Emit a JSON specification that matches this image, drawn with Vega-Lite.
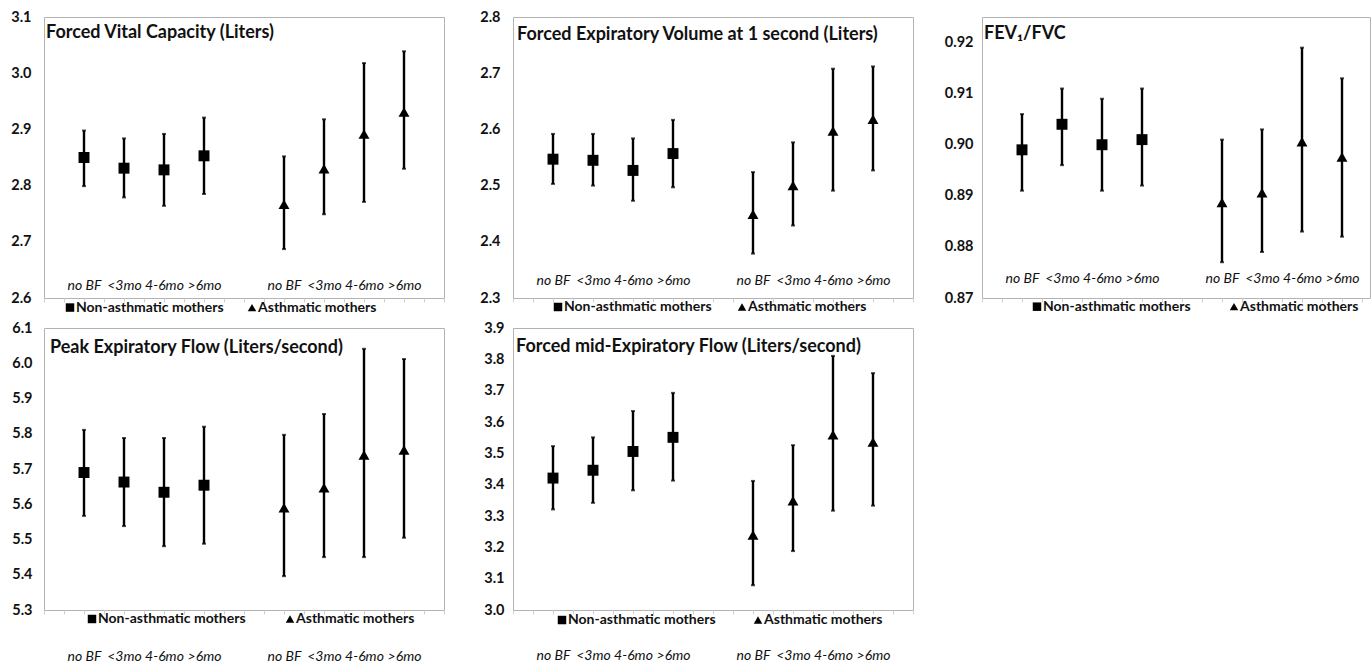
{
  "$schema": "https://vega.github.io/schema/vega-lite/v6.json",
  "padding": {"left": 10, "top": 8, "right": 0, "bottom": 0},
  "background": "white",
  "columns": 3,
  "spacing": {"row": 30, "column": 69},
  "bounds": "flush",
  "config": {
    "font": "Lato",
    "view": {"stroke": "#b3b3b3", "strokeWidth": 1},
    "axisY": {"ticks": false, "domain": false, "grid": false, "tickCount": 20, "labelFont": "Lato", "labelFontWeight": "bold", "labelFontSize": 14.5, "labelColor": "#111", "labelPadding": 13, "labelOverlap": false, "labelFlush": false, "title": null},
    "axisX": {"domain": false, "grid": false, "tickCount": 20, "tickSize": 4, "tickColor": "#d0d0d0", "labelFont": "Lato", "labelFontStyle": "italic", "labelFontSize": 14, "labelColor": "#111", "labelOverlap": false, "labelFlush": false, "title": null, "values": [1, 2, 3, 4, 5, 6, 7, 8, 9],
      "labelExpr": "datum.value == 1 || datum.value == 6 ? 'no BF' : datum.value == 2 || datum.value == 7 ? '<3mo' : datum.value == 3 || datum.value == 8 ? '4-6mo' : datum.value == 4 || datum.value == 9 ? '>6mo' : ''"},
    "text": {"font": "Lato", "color": "#111"}
  },
  "datasets": {
    "fvc": [
      {"group": "Non-asthmatic", "cat": "no BF", "pos": 1, "mean": 2.850, "lo": 2.799, "hi": 2.898},
      {"group": "Non-asthmatic", "cat": "<3mo", "pos": 2, "mean": 2.831, "lo": 2.779, "hi": 2.884},
      {"group": "Non-asthmatic", "cat": "4-6mo", "pos": 3, "mean": 2.828, "lo": 2.764, "hi": 2.892},
      {"group": "Non-asthmatic", "cat": ">6mo", "pos": 4, "mean": 2.853, "lo": 2.785, "hi": 2.921},
      {"group": "Asthmatic", "cat": "no BF", "pos": 6, "mean": 2.767, "lo": 2.687, "hi": 2.852},
      {"group": "Asthmatic", "cat": "<3mo", "pos": 7, "mean": 2.830, "lo": 2.749, "hi": 2.918},
      {"group": "Asthmatic", "cat": "4-6mo", "pos": 8, "mean": 2.892, "lo": 2.771, "hi": 3.018},
      {"group": "Asthmatic", "cat": ">6mo", "pos": 9, "mean": 2.931, "lo": 2.830, "hi": 3.039}
    ],
    "fev1": [
      {"group": "Non-asthmatic", "cat": "no BF", "pos": 1, "mean": 2.547, "lo": 2.503, "hi": 2.592},
      {"group": "Non-asthmatic", "cat": "<3mo", "pos": 2, "mean": 2.545, "lo": 2.500, "hi": 2.592},
      {"group": "Non-asthmatic", "cat": "4-6mo", "pos": 3, "mean": 2.527, "lo": 2.473, "hi": 2.584},
      {"group": "Non-asthmatic", "cat": ">6mo", "pos": 4, "mean": 2.557, "lo": 2.497, "hi": 2.617},
      {"group": "Asthmatic", "cat": "no BF", "pos": 6, "mean": 2.449, "lo": 2.379, "hi": 2.524},
      {"group": "Asthmatic", "cat": "<3mo", "pos": 7, "mean": 2.500, "lo": 2.429, "hi": 2.577},
      {"group": "Asthmatic", "cat": "4-6mo", "pos": 8, "mean": 2.597, "lo": 2.491, "hi": 2.708},
      {"group": "Asthmatic", "cat": ">6mo", "pos": 9, "mean": 2.618, "lo": 2.527, "hi": 2.712}
    ],
    "ratio": [
      {"group": "Non-asthmatic", "cat": "no BF", "pos": 1, "mean": 0.899, "lo": 0.891, "hi": 0.906},
      {"group": "Non-asthmatic", "cat": "<3mo", "pos": 2, "mean": 0.904, "lo": 0.896, "hi": 0.911},
      {"group": "Non-asthmatic", "cat": "4-6mo", "pos": 3, "mean": 0.900, "lo": 0.891, "hi": 0.909},
      {"group": "Non-asthmatic", "cat": ">6mo", "pos": 4, "mean": 0.901, "lo": 0.892, "hi": 0.911},
      {"group": "Asthmatic", "cat": "no BF", "pos": 6, "mean": 0.8887, "lo": 0.877, "hi": 0.901},
      {"group": "Asthmatic", "cat": "<3mo", "pos": 7, "mean": 0.8906, "lo": 0.879, "hi": 0.903},
      {"group": "Asthmatic", "cat": "4-6mo", "pos": 8, "mean": 0.9006, "lo": 0.883, "hi": 0.919},
      {"group": "Asthmatic", "cat": ">6mo", "pos": 9, "mean": 0.8976, "lo": 0.882, "hi": 0.913}
    ],
    "pef": [
      {"group": "Non-asthmatic", "cat": "no BF", "pos": 1, "mean": 5.690, "lo": 5.567, "hi": 5.811},
      {"group": "Non-asthmatic", "cat": "<3mo", "pos": 2, "mean": 5.663, "lo": 5.538, "hi": 5.788},
      {"group": "Non-asthmatic", "cat": "4-6mo", "pos": 3, "mean": 5.634, "lo": 5.481, "hi": 5.788},
      {"group": "Non-asthmatic", "cat": ">6mo", "pos": 4, "mean": 5.654, "lo": 5.488, "hi": 5.820},
      {"group": "Asthmatic", "cat": "no BF", "pos": 6, "mean": 5.590, "lo": 5.396, "hi": 5.797},
      {"group": "Asthmatic", "cat": "<3mo", "pos": 7, "mean": 5.647, "lo": 5.450, "hi": 5.856},
      {"group": "Asthmatic", "cat": "4-6mo", "pos": 8, "mean": 5.740, "lo": 5.450, "hi": 6.041},
      {"group": "Asthmatic", "cat": ">6mo", "pos": 9, "mean": 5.754, "lo": 5.505, "hi": 6.012}
    ],
    "fef": [
      {"group": "Non-asthmatic", "cat": "no BF", "pos": 1, "mean": 3.421, "lo": 3.321, "hi": 3.523},
      {"group": "Non-asthmatic", "cat": "<3mo", "pos": 2, "mean": 3.446, "lo": 3.342, "hi": 3.551},
      {"group": "Non-asthmatic", "cat": "4-6mo", "pos": 3, "mean": 3.506, "lo": 3.382, "hi": 3.635},
      {"group": "Non-asthmatic", "cat": ">6mo", "pos": 4, "mean": 3.551, "lo": 3.413, "hi": 3.693},
      {"group": "Asthmatic", "cat": "no BF", "pos": 6, "mean": 3.239, "lo": 3.079, "hi": 3.412},
      {"group": "Asthmatic", "cat": "<3mo", "pos": 7, "mean": 3.349, "lo": 3.188, "hi": 3.526},
      {"group": "Asthmatic", "cat": "4-6mo", "pos": 8, "mean": 3.559, "lo": 3.317, "hi": 3.811},
      {"group": "Asthmatic", "cat": ">6mo", "pos": 9, "mean": 3.536, "lo": 3.333, "hi": 3.756}
    ]
  },
  "concat": [
    {
      "width": 400, "height": 281,
      "data": {"name": "fvc"},
      "layer": [
        {"mark": {"type": "rule", "color": "black", "strokeWidth": 2.4},
         "encoding": {
           "x": {"field": "pos", "type": "quantitative", "scale": {"domain": [0, 10], "nice": false, "zero": false}, "axis": {"labelPadding": -24}},
           "y": {"field": "lo", "type": "quantitative", "scale": {"domain": [2.6, 3.1], "nice": false, "zero": false}, "axis": {"values": [2.6, 2.7, 2.8, 2.9, 3.0, 3.1], "format": ".1f", "labelOverlap": false, "tickCount": 20}},
           "y2": {"field": "hi"}}},
        {"mark": {"type": "tick", "orient": "horizontal", "color": "black", "size": 4, "thickness": 2},
         "encoding": {"x": {"field": "pos", "type": "quantitative"}, "y": {"field": "lo", "type": "quantitative"}}},
        {"mark": {"type": "tick", "orient": "horizontal", "color": "black", "size": 4, "thickness": 2},
         "encoding": {"x": {"field": "pos", "type": "quantitative"}, "y": {"field": "hi", "type": "quantitative"}}},
        {"mark": {"type": "point", "filled": true, "color": "black", "opacity": 1, "size": 120},
         "encoding": {"x": {"field": "pos", "type": "quantitative"}, "y": {"field": "mean", "type": "quantitative"},
           "shape": {"field": "group", "type": "nominal", "scale": {"domain": ["Non-asthmatic", "Asthmatic"], "range": ["square", "triangle-up"]}, "legend": null}}},
        {"data": {"values": [{"label": "Forced Vital Capacity (Liters)", "x": 0.05, "y": 3.0715}]},
         "mark": {"type": "text", "align": "left", "baseline": "middle", "fontWeight": "bold", "fontSize": 18},
         "encoding": {"x": {"field": "x", "type": "quantitative"}, "y": {"field": "y", "type": "quantitative"}, "text": {"field": "label"}}},
        {"data": {"values": [{"group": "Non-asthmatic", "label": "Non-asthmatic mothers", "x": 0.65, "y": 2.583}, {"group": "Asthmatic", "label": "Asthmatic mothers", "x": 5.2, "y": 2.583}]},
         "layer": [
           {"mark": {"type": "point", "filled": true, "color": "black", "opacity": 1, "size": 72},
            "encoding": {"x": {"field": "x", "type": "quantitative"}, "y": {"field": "y", "type": "quantitative"}, "shape": {"field": "group", "type": "nominal", "legend": null}}},
           {"mark": {"type": "text", "align": "left", "baseline": "middle", "fontWeight": "bold", "fontSize": 14, "dx": 6},
            "encoding": {"x": {"field": "x", "type": "quantitative"}, "y": {"field": "y", "type": "quantitative"}, "text": {"field": "label"}}}
         ]}
      ]
    },
    {
      "width": 400, "height": 281,
      "data": {"name": "fev1"},
      "layer": [
        {"mark": {"type": "rule", "color": "black", "strokeWidth": 2.4},
         "encoding": {
           "x": {"field": "pos", "type": "quantitative", "scale": {"domain": [0, 10], "nice": false, "zero": false}, "axis": {"labelPadding": -29}},
           "y": {"field": "lo", "type": "quantitative", "scale": {"domain": [2.3, 2.8], "nice": false, "zero": false}, "axis": {"values": [2.3, 2.4, 2.5, 2.6, 2.7, 2.8], "format": ".1f", "labelOverlap": false, "tickCount": 20}},
           "y2": {"field": "hi"}}},
        {"mark": {"type": "tick", "orient": "horizontal", "color": "black", "size": 4, "thickness": 2},
         "encoding": {"x": {"field": "pos", "type": "quantitative"}, "y": {"field": "lo", "type": "quantitative"}}},
        {"mark": {"type": "tick", "orient": "horizontal", "color": "black", "size": 4, "thickness": 2},
         "encoding": {"x": {"field": "pos", "type": "quantitative"}, "y": {"field": "hi", "type": "quantitative"}}},
        {"mark": {"type": "point", "filled": true, "color": "black", "opacity": 1, "size": 120},
         "encoding": {"x": {"field": "pos", "type": "quantitative"}, "y": {"field": "mean", "type": "quantitative"},
           "shape": {"field": "group", "type": "nominal", "scale": {"domain": ["Non-asthmatic", "Asthmatic"], "range": ["square", "triangle-up"]}, "legend": null}}},
        {"data": {"values": [{"label": "Forced Expiratory Volume at 1 second (Liters)", "x": 0.1, "y": 2.768}]},
         "mark": {"type": "text", "align": "left", "baseline": "middle", "fontWeight": "bold", "fontSize": 18},
         "encoding": {"x": {"field": "x", "type": "quantitative"}, "y": {"field": "y", "type": "quantitative"}, "text": {"field": "label"}}},
        {"data": {"values": [{"group": "Non-asthmatic", "label": "Non-asthmatic mothers", "x": 1.125, "y": 2.284}, {"group": "Asthmatic", "label": "Asthmatic mothers", "x": 5.725, "y": 2.284}]},
         "layer": [
           {"mark": {"type": "point", "filled": true, "color": "black", "opacity": 1, "size": 72},
            "encoding": {"x": {"field": "x", "type": "quantitative"}, "y": {"field": "y", "type": "quantitative"}, "shape": {"field": "group", "type": "nominal", "legend": null}}},
           {"mark": {"type": "text", "align": "left", "baseline": "middle", "fontWeight": "bold", "fontSize": 14, "dx": 6},
            "encoding": {"x": {"field": "x", "type": "quantitative"}, "y": {"field": "y", "type": "quantitative"}, "text": {"field": "label"}}}
         ]}
      ]
    },
    {
      "width": 388, "height": 281,
      "data": {"name": "ratio"},
      "layer": [
        {"mark": {"type": "rule", "color": "black", "strokeWidth": 2.4},
         "encoding": {
           "x": {"field": "pos", "type": "quantitative", "scale": {"domain": [0, 9.7], "nice": false, "zero": false}, "axis": {"labelPadding": -31}},
           "y": {"field": "lo", "type": "quantitative", "scale": {"domain": [0.87, 0.925], "nice": false, "zero": false}, "axis": {"values": [0.87, 0.88, 0.89, 0.90, 0.91, 0.92], "format": ".2f", "labelPadding": 9, "labelOverlap": false, "tickCount": 20}},
           "y2": {"field": "hi"}}},
        {"mark": {"type": "tick", "orient": "horizontal", "color": "black", "size": 4, "thickness": 2},
         "encoding": {"x": {"field": "pos", "type": "quantitative"}, "y": {"field": "lo", "type": "quantitative"}}},
        {"mark": {"type": "tick", "orient": "horizontal", "color": "black", "size": 4, "thickness": 2},
         "encoding": {"x": {"field": "pos", "type": "quantitative"}, "y": {"field": "hi", "type": "quantitative"}}},
        {"mark": {"type": "point", "filled": true, "color": "black", "opacity": 1, "size": 120},
         "encoding": {"x": {"field": "pos", "type": "quantitative"}, "y": {"field": "mean", "type": "quantitative"},
           "shape": {"field": "group", "type": "nominal", "scale": {"domain": ["Non-asthmatic", "Asthmatic"], "range": ["square", "triangle-up"]}, "legend": null}}},
        {"data": {"values": [{"label": "FEV₁/FVC", "x": 0.05, "y": 0.9217}]},
         "mark": {"type": "text", "align": "left", "baseline": "middle", "fontWeight": "bold", "fontSize": 18},
         "encoding": {"x": {"field": "x", "type": "quantitative"}, "y": {"field": "y", "type": "quantitative"}, "text": {"field": "label"}}},
        {"data": {"values": [{"group": "Non-asthmatic", "label": "Non-asthmatic mothers", "x": 1.375, "y": 0.8683}, {"group": "Asthmatic", "label": "Asthmatic mothers", "x": 6.3, "y": 0.8683}]},
         "layer": [
           {"mark": {"type": "point", "filled": true, "color": "black", "opacity": 1, "size": 72},
            "encoding": {"x": {"field": "x", "type": "quantitative"}, "y": {"field": "y", "type": "quantitative"}, "shape": {"field": "group", "type": "nominal", "legend": null}}},
           {"mark": {"type": "text", "align": "left", "baseline": "middle", "fontWeight": "bold", "fontSize": 14, "dx": 6},
            "encoding": {"x": {"field": "x", "type": "quantitative"}, "y": {"field": "y", "type": "quantitative"}, "text": {"field": "label"}}}
         ]}
      ]
    },
    {
      "width": 400, "height": 282,
      "data": {"name": "pef"},
      "layer": [
        {"mark": {"type": "rule", "color": "black", "strokeWidth": 2.4},
         "encoding": {
           "x": {"field": "pos", "type": "quantitative", "scale": {"domain": [0, 10], "nice": false, "zero": false}, "axis": {"labelPadding": 35}},
           "y": {"field": "lo", "type": "quantitative", "scale": {"domain": [5.3, 6.1], "nice": false, "zero": false}, "axis": {"values": [5.3, 5.4, 5.5, 5.6, 5.7, 5.8, 5.9, 6.0, 6.1], "format": ".1f", "labelPadding": 12, "labelOverlap": false, "tickCount": 20}},
           "y2": {"field": "hi"}}},
        {"mark": {"type": "tick", "orient": "horizontal", "color": "black", "size": 4, "thickness": 2},
         "encoding": {"x": {"field": "pos", "type": "quantitative"}, "y": {"field": "lo", "type": "quantitative"}}},
        {"mark": {"type": "tick", "orient": "horizontal", "color": "black", "size": 4, "thickness": 2},
         "encoding": {"x": {"field": "pos", "type": "quantitative"}, "y": {"field": "hi", "type": "quantitative"}}},
        {"mark": {"type": "point", "filled": true, "color": "black", "opacity": 1, "size": 120},
         "encoding": {"x": {"field": "pos", "type": "quantitative"}, "y": {"field": "mean", "type": "quantitative"},
           "shape": {"field": "group", "type": "nominal", "scale": {"domain": ["Non-asthmatic", "Asthmatic"], "range": ["square", "triangle-up"]}, "legend": null}}},
        {"data": {"values": [{"label": "Peak Expiratory Flow (Liters/second)", "x": 0.15, "y": 6.043}]},
         "mark": {"type": "text", "align": "left", "baseline": "middle", "fontWeight": "bold", "fontSize": 18},
         "encoding": {"x": {"field": "x", "type": "quantitative"}, "y": {"field": "y", "type": "quantitative"}, "text": {"field": "label"}}},
        {"data": {"values": [{"group": "Non-asthmatic", "label": "Non-asthmatic mothers", "x": 1.2, "y": 5.2745}, {"group": "Asthmatic", "label": "Asthmatic mothers", "x": 6.15, "y": 5.2745}]},
         "layer": [
           {"mark": {"type": "point", "filled": true, "color": "black", "opacity": 1, "size": 72},
            "encoding": {"x": {"field": "x", "type": "quantitative"}, "y": {"field": "y", "type": "quantitative"}, "shape": {"field": "group", "type": "nominal", "legend": null}}},
           {"mark": {"type": "text", "align": "left", "baseline": "middle", "fontWeight": "bold", "fontSize": 14, "dx": 6},
            "encoding": {"x": {"field": "x", "type": "quantitative"}, "y": {"field": "y", "type": "quantitative"}, "text": {"field": "label"}}}
         ]}
      ]
    },
    {
      "width": 400, "height": 282,
      "data": {"name": "fef"},
      "layer": [
        {"mark": {"type": "rule", "color": "black", "strokeWidth": 2.4},
         "encoding": {
           "x": {"field": "pos", "type": "quantitative", "scale": {"domain": [0, 10], "nice": false, "zero": false}, "axis": {"labelPadding": 34}},
           "y": {"field": "lo", "type": "quantitative", "scale": {"domain": [3.0, 3.9], "nice": false, "zero": false}, "axis": {"values": [3.0, 3.1, 3.2, 3.3, 3.4, 3.5, 3.6, 3.7, 3.8, 3.9], "format": ".1f", "labelPadding": 9, "labelOverlap": false, "tickCount": 20}},
           "y2": {"field": "hi"}}},
        {"mark": {"type": "tick", "orient": "horizontal", "color": "black", "size": 4, "thickness": 2},
         "encoding": {"x": {"field": "pos", "type": "quantitative"}, "y": {"field": "lo", "type": "quantitative"}}},
        {"mark": {"type": "tick", "orient": "horizontal", "color": "black", "size": 4, "thickness": 2},
         "encoding": {"x": {"field": "pos", "type": "quantitative"}, "y": {"field": "hi", "type": "quantitative"}}},
        {"mark": {"type": "point", "filled": true, "color": "black", "opacity": 1, "size": 120},
         "encoding": {"x": {"field": "pos", "type": "quantitative"}, "y": {"field": "mean", "type": "quantitative"},
           "shape": {"field": "group", "type": "nominal", "scale": {"domain": ["Non-asthmatic", "Asthmatic"], "range": ["square", "triangle-up"]}, "legend": null}}},
        {"data": {"values": [{"label": "Forced mid-Expiratory Flow (Liters/second)", "x": 0.075, "y": 3.839}]},
         "mark": {"type": "text", "align": "left", "baseline": "middle", "fontWeight": "bold", "fontSize": 18},
         "encoding": {"x": {"field": "x", "type": "quantitative"}, "y": {"field": "y", "type": "quantitative"}, "text": {"field": "label"}}},
        {"data": {"values": [{"group": "Non-asthmatic", "label": "Non-asthmatic mothers", "x": 1.225, "y": 2.968}, {"group": "Asthmatic", "label": "Asthmatic mothers", "x": 6.125, "y": 2.968}]},
         "layer": [
           {"mark": {"type": "point", "filled": true, "color": "black", "opacity": 1, "size": 72},
            "encoding": {"x": {"field": "x", "type": "quantitative"}, "y": {"field": "y", "type": "quantitative"}, "shape": {"field": "group", "type": "nominal", "legend": null}}},
           {"mark": {"type": "text", "align": "left", "baseline": "middle", "fontWeight": "bold", "fontSize": 14, "dx": 6},
            "encoding": {"x": {"field": "x", "type": "quantitative"}, "y": {"field": "y", "type": "quantitative"}, "text": {"field": "label"}}}
         ]}
      ]
    }
  ]
}
